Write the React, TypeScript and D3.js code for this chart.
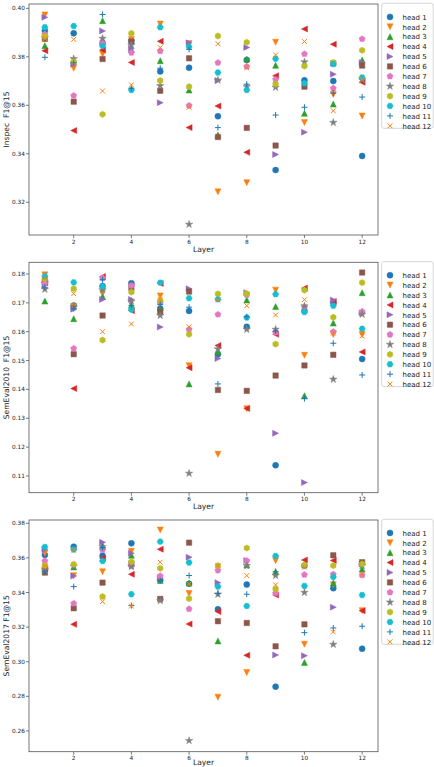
import React from 'react'
import * as d3 from 'd3'

// F1@15 per attention head (rows) across layers 1..12 (columns)
const layers = [1, 2, 3, 4, 5, 6, 7, 8, 9, 10, 11, 12]
const heads = ['head 1', 'head 2', 'head 3', 'head 4', 'head 5', 'head 6', 'head 7', 'head 8', 'head 9', 'head 10', 'head 11', 'head 12']
const markers = ['o', 'v', '^', '<', '>', 's', 'p', '*', 'h', 'H', '+', 'x']
const colors = ['#1f77b4', '#ff7f0e', '#2ca02c', '#d62728', '#9467bd', '#8c564b', '#e377c2', '#7f7f7f', '#bcbd22', '#17becf', '#1f77b4', '#ff7f0e']

const inspecScores = [
  [0.3908, 0.3897, 0.3855, 0.3867, 0.374, 0.3755, 0.3555, 0.3787, 0.3333, 0.3703, 0.37, 0.3391],
  [0.3973, 0.3753, 0.3812, 0.3872, 0.3935, 0.3855, 0.3243, 0.3281, 0.386, 0.3529, 0.3645, 0.3556],
  [0.3846, 0.3787, 0.3949, 0.383, 0.3784, 0.3663, 0.3478, 0.3791, 0.3765, 0.3567, 0.3605, 0.3787],
  [0.3825, 0.3496, 0.3828, 0.3777, 0.3864, 0.3508, 0.3597, 0.3406, 0.3722, 0.3915, 0.3852, 0.3695],
  [0.3963, 0.3769, 0.3907, 0.3835, 0.3611, 0.3858, 0.3702, 0.3839, 0.3397, 0.3489, 0.3728, 0.3776],
  [0.3874, 0.3615, 0.3791, 0.3863, 0.366, 0.3794, 0.3469, 0.3507, 0.3434, 0.3677, 0.3773, 0.3764],
  [0.3893, 0.364, 0.3861, 0.3817, 0.3824, 0.3599, 0.3776, 0.376, 0.3707, 0.3812, 0.367, 0.3874],
  [0.388, 0.3792, 0.3876, 0.3849, 0.3681, 0.3109, 0.3704, 0.3677, 0.3674, 0.3779, 0.3529, 0.3705],
  [0.3885, 0.378, 0.3563, 0.3897, 0.3702, 0.3677, 0.3886, 0.386, 0.3688, 0.3762, 0.3777, 0.3827],
  [0.3922, 0.3927, 0.3845, 0.3663, 0.3922, 0.3842, 0.3735, 0.3663, 0.3792, 0.3691, 0.377, 0.3715],
  [0.3798, 0.3775, 0.3975, 0.367, 0.3753, 0.3831, 0.3508, 0.3687, 0.356, 0.3592, 0.365, 0.3634],
  [0.3874, 0.3872, 0.3659, 0.3684, 0.3838, 0.3592, 0.3854, 0.3755, 0.3808, 0.3863, 0.3577, 0.3709],
]

const semeval2010Scores = [
  [0.1773, 0.1691, 0.1758, 0.1768, 0.168, 0.1672, 0.1522, 0.1617, 0.1137, 0.1672, 0.17, 0.1505],
  [0.1797, 0.1687, 0.1733, 0.1755, 0.1724, 0.1482, 0.1175, 0.1333, 0.1744, 0.1518, 0.159, 0.159],
  [0.1706, 0.1645, 0.1722, 0.1692, 0.1683, 0.1419, 0.153, 0.171, 0.1687, 0.1378, 0.163, 0.1735],
  [0.177, 0.1403, 0.1791, 0.1673, 0.1767, 0.1475, 0.1552, 0.1334, 0.1591, 0.1751, 0.1705, 0.153],
  [0.1762, 0.1678, 0.1712, 0.1712, 0.1616, 0.1749, 0.1507, 0.1735, 0.1248, 0.1077, 0.171, 0.1665],
  [0.1777, 0.1522, 0.1656, 0.1752, 0.1668, 0.1739, 0.1398, 0.1395, 0.1448, 0.1483, 0.152, 0.1805],
  [0.1768, 0.1542, 0.1786, 0.176, 0.17, 0.1608, 0.166, 0.1728, 0.1598, 0.1685, 0.16, 0.167],
  [0.1747, 0.1685, 0.1745, 0.1705, 0.1656, 0.1109, 0.154, 0.1608, 0.1608, 0.1689, 0.1435, 0.166],
  [0.1783, 0.1749, 0.1571, 0.1737, 0.1708, 0.1591, 0.1731, 0.1732, 0.1557, 0.1744, 0.165, 0.177],
  [0.1792, 0.1771, 0.1757, 0.1677, 0.177, 0.1716, 0.1712, 0.1649, 0.173, 0.1668, 0.169, 0.161],
  [0.1754, 0.168, 0.178, 0.169, 0.1695, 0.1685, 0.1419, 0.1652, 0.1602, 0.1368, 0.156, 0.145],
  [0.1785, 0.1732, 0.16, 0.1627, 0.1712, 0.1617, 0.171, 0.169, 0.1658, 0.1711, 0.1595, 0.1585],
]

const semeval2017Scores = [
  [0.3617, 0.3665, 0.3613, 0.3684, 0.3472, 0.345, 0.3303, 0.3446, 0.2856, 0.3555, 0.3425, 0.3075],
  [0.3627, 0.3497, 0.352, 0.3638, 0.3761, 0.3394, 0.2795, 0.2937, 0.3584, 0.3101, 0.3445, 0.3295],
  [0.356, 0.3548, 0.3671, 0.3615, 0.347, 0.3455, 0.312, 0.3559, 0.3521, 0.2995, 0.3455, 0.3535],
  [0.354, 0.3216, 0.3598, 0.3505, 0.365, 0.3218, 0.329, 0.3037, 0.3386, 0.3588, 0.3585, 0.3295],
  [0.3648, 0.3495, 0.369, 0.3627, 0.3485, 0.3604, 0.3457, 0.3585, 0.3039, 0.3035, 0.3315, 0.3565],
  [0.3515, 0.3309, 0.3457, 0.3566, 0.3363, 0.3688, 0.3234, 0.3224, 0.3089, 0.3216, 0.3615, 0.3575],
  [0.3582, 0.3337, 0.3646, 0.3552, 0.3496, 0.3305, 0.3528, 0.3584, 0.3396, 0.3503, 0.3505, 0.35],
  [0.353, 0.3552, 0.3665, 0.355, 0.3353, 0.2544, 0.339, 0.3555, 0.3498, 0.34, 0.31, 0.3555],
  [0.3555, 0.3563, 0.3376, 0.3578, 0.354, 0.3365, 0.3555, 0.3657, 0.342, 0.3559, 0.3555, 0.3565],
  [0.3663, 0.3648, 0.3582, 0.339, 0.3694, 0.3573, 0.3434, 0.3322, 0.3611, 0.3438, 0.349, 0.3385],
  [0.352, 0.3434, 0.366, 0.3324, 0.3468, 0.3498, 0.3395, 0.339, 0.352, 0.3168, 0.3195, 0.3205],
  [0.3553, 0.3645, 0.3347, 0.3322, 0.3575, 0.345, 0.3555, 0.3498, 0.3444, 0.3546, 0.3172, 0.3505],
]

const xTicks = [2, 4, 6, 8, 10, 12]
const inspecTicks = [0.32, 0.34, 0.36, 0.38, 0.40]
const semeval2010Ticks = [0.11, 0.12, 0.13, 0.14, 0.15, 0.16, 0.17, 0.18]
const semeval2017Ticks = [0.26, 0.28, 0.30, 0.32, 0.34, 0.36, 0.38]

const panels = [
  { label: 'Inspec  F1@15', scores: inspecScores, ticks: inspecTicks, domain: [0.3065, 0.4018], top: 4, bottom: 235 },
  { label: 'SemEval2010  F1@15', scores: semeval2010Scores, ticks: semeval2010Ticks, domain: [0.1042, 0.18405], top: 262.3, bottom: 492.7 },
  { label: 'SemEval2017 F1@15', scores: semeval2017Scores, ticks: semeval2017Ticks, domain: [0.248, 0.3819], top: 520, bottom: 751.7 },
]

const W = 434
const H = 767
const left = 29
const right = 378
const font = 'DejaVu Sans, Liberation Sans, sans-serif'

const x = d3.scaleLinear().domain([0.45, 12.55]).range([left, right])

function polygon(n: number, r: number, rot: number) {
  const pts: [number, number][] = []
  for (let i = 0; i < n; i++) {
    const a = rot + (i * 2 * Math.PI) / n
    pts.push([r * Math.sin(a), -r * Math.cos(a)])
  }
  return 'M' + pts.map(p => p.join(',')).join('L') + 'Z'
}

function starPath(r: number) {
  const pts: [number, number][] = []
  for (let i = 0; i < 10; i++) {
    const rr = i % 2 === 0 ? r : r * 0.382
    const a = (i * Math.PI) / 5
    pts.push([rr * Math.sin(a), -rr * Math.cos(a)])
  }
  return 'M' + pts.map(p => p.join(',')).join('L') + 'Z'
}

function markerPath(m: string, r = 3) {
  switch (m) {
    case 'o': return d3.symbol(d3.symbolCircle, Math.PI * r * r)() as string
    case 'v': return `M0,${r}L${-r},${-r}L${r},${-r}Z`
    case '^': return `M0,${-r}L${-r},${r}L${r},${r}Z`
    case '<': return `M${-r},0L${r},${-r}L${r},${r}Z`
    case '>': return `M${r},0L${-r},${-r}L${-r},${r}Z`
    case 's': return `M-2.7,-2.7H2.7V2.7H-2.7Z`
    case 'p': return polygon(5, r * 1.08, 0)
    case '*': return starPath(r * 1.3)
    case 'h': return polygon(6, r * 1.05, 0)
    case 'H': return polygon(6, r * 1.05, Math.PI / 6)
    case '+': return `M${-r},0H${r}M0,${-r}V${r}`
    case 'x': return `M${-r * 0.8},${-r * 0.8}L${r * 0.8},${r * 0.8}M${-r * 0.8},${r * 0.8}L${r * 0.8},${-r * 0.8}`
    default: return ''
  }
}

function Marker({ m, color, cx, cy }: { m: string; color: string; cx: number; cy: number }) {
  const lined = m === '+' || m === 'x'
  return (
    <path
      d={markerPath(m)}
      transform={`translate(${cx},${cy})`}
      fill={lined ? 'none' : color}
      stroke={color}
      strokeWidth={lined ? 1 : 0.5}
    />
  )
}

function Panel({ p }: { p: typeof panels[number] }) {
  const y = d3.scaleLinear().domain(p.domain).range([p.bottom, p.top])
  const midY = (p.top + p.bottom) / 2
  const legendTop = p.top - 0.7
  // keep the last x label inside the page
  const xLabelY = Math.min(p.bottom + 16.5, H - 2)
  return (
    <g>
      {p.ticks.map(t => (
        <g key={t}>
          <line x1={left - 3} x2={left} y1={y(t)} y2={y(t)} stroke="#444" strokeWidth={0.7} />
          <text x={left - 4} y={y(t) + 2} fontSize={5.8} textAnchor="end" fill="#222" fontFamily={font}>
            {d3.format('.2f')(t)}
          </text>
        </g>
      ))}
      {xTicks.map(t => (
        <g key={t}>
          <line x1={x(t)} x2={x(t)} y1={p.bottom} y2={p.bottom + 3} stroke="#444" strokeWidth={0.7} />
          <text x={x(t)} y={p.bottom + 8.5} fontSize={5.8} textAnchor="middle" fill="#222" fontFamily={font}>
            {t}
          </text>
        </g>
      ))}
      <text
        transform={`translate(9,${midY}) rotate(-90)`}
        textAnchor="middle"
        fontSize={7.6}
        fill="#222"
        fontFamily={font}
        style={{ whiteSpace: 'pre' }}
      >
        {p.label}
      </text>
      <text x={(left + right) / 2} y={xLabelY} textAnchor="middle" fontSize={7.6} fill="#222" fontFamily={font}>
        Layer
      </text>
      {p.scores.map((row, hi) => (
        <g key={hi}>
          {row.map((v, li) => (
            <Marker key={li} m={markers[hi]} color={colors[hi]} cx={x(layers[li])} cy={y(v)} />
          ))}
        </g>
      ))}
      <rect x={left} y={p.top} width={right - left} height={p.bottom - p.top} fill="none" stroke="#555" strokeWidth={0.8} />
      {/* legend to the right of the axes */}
      <rect x={381.7} y={legendTop} width={51.5} height={125} rx={2} fill="white" stroke="#ccc" strokeWidth={0.8} />
      {heads.map((h, i) => {
        const cy = legendTop + 14 + i * 9.9
        return (
          <g key={h}>
            <Marker m={markers[i]} color={colors[i]} cx={390} cy={cy - 0.4} />
            <text x={402.5} y={cy + 2.3} fontSize={7} fill="#222" fontFamily={font}>
              {h}
            </text>
          </g>
        )
      })}
    </g>
  )
}

export default function App() {
  return (
    <svg width={W} height={H} style={{ position: 'absolute', left: 0, top: 0, background: 'white' }}>
      {panels.map((p, i) => (
        <Panel key={i} p={p} />
      ))}
    </svg>
  )
}
